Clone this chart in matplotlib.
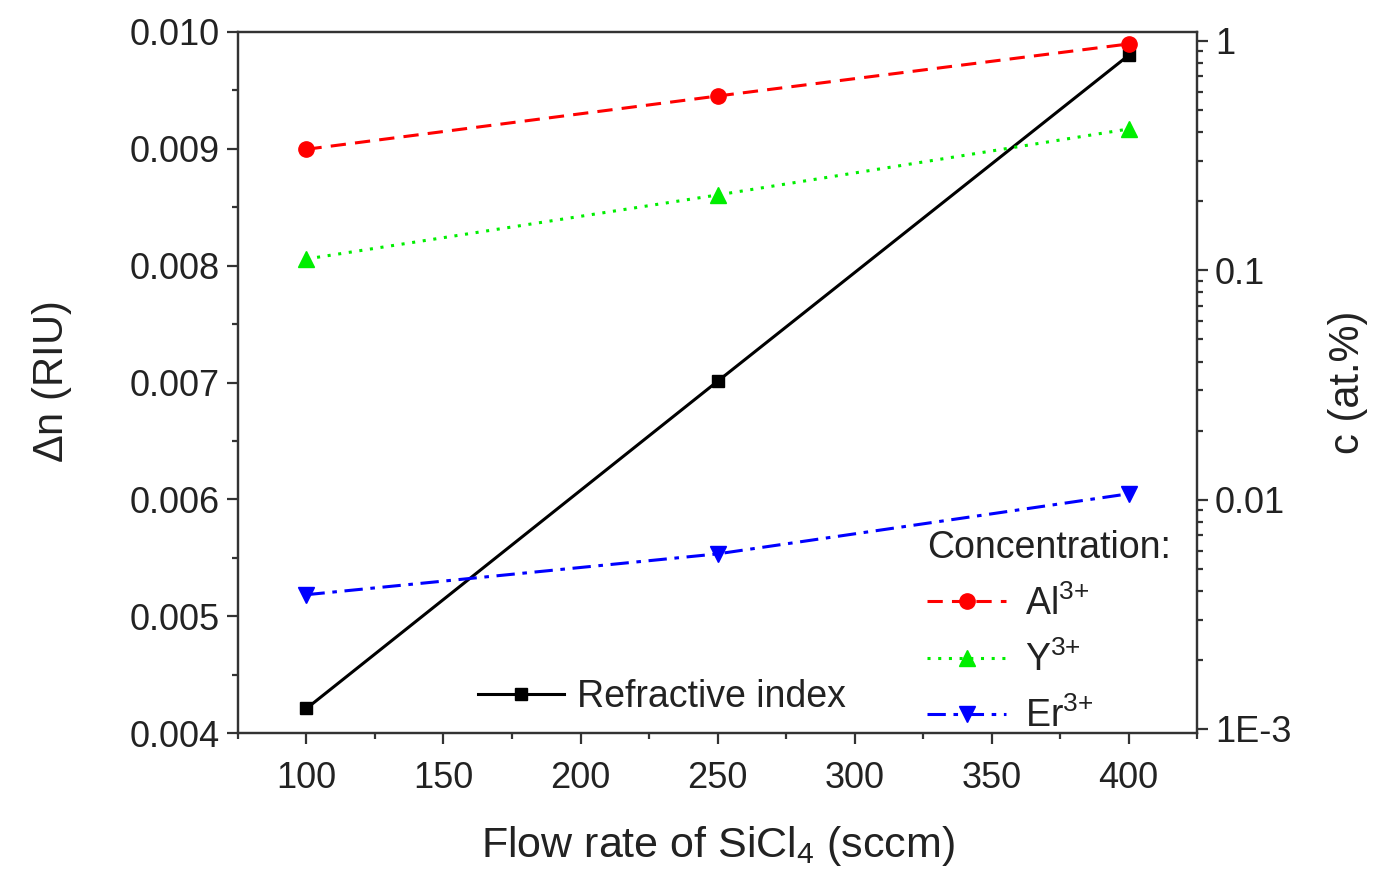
import matplotlib
matplotlib.use('Agg')
import matplotlib.pyplot as plt
from matplotlib.ticker import MultipleLocator, FixedLocator, FixedFormatter, LogLocator, NullFormatter

plt.rcParams['font.family'] = ['Liberation Sans', 'DejaVu Sans']
plt.rcParams['mathtext.fontset'] = 'custom'
plt.rcParams['mathtext.rm'] = 'Liberation Sans'
plt.rcParams['mathtext.it'] = 'Liberation Sans:italic'
plt.rcParams['mathtext.default'] = 'regular'

# data
flow = [100, 250, 400]
delta_n = [0.00421, 0.00701, 0.0098]
conc_al = [0.337, 0.575, 0.97]
conc_y = [0.112, 0.213, 0.413]
conc_er = [0.00385, 0.0058, 0.0106]

right_ticks = [1e-3, 1e-2, 1e-1, 1]
right_labels = ['1E-3', '0.01', '0.1', '1']

fig = plt.figure(figsize=(13.78, 8.76), dpi=100)
ax = fig.add_axes([0.1727, 0.1632, 0.696, 0.8003])
ax2 = ax.twinx()

ln_n, = ax.plot(flow, delta_n, color='black', lw=2.2, marker='s', ms=9,
                label='Refractive index')
ln_al, = ax2.plot(flow, conc_al, color='#ff0000', lw=2.2, ls=(0, (5, 3)),
                  marker='o', ms=11, label=r'Al$^{3{+}}$')
ln_y, = ax2.plot(flow, conc_y, color='#00ee00', lw=2.2, ls=(0, (1, 2.5)),
                 marker='^', ms=11, label=r'Y$^{3{+}}$')
ln_er, = ax2.plot(flow, conc_er, color='#0000ff', lw=2.2, ls=(0, (6, 2.5, 1.5, 2.5)),
                  marker='v', ms=11, label=r'Er$^{3{+}}$')

ax.set_xlim(75, 425)
ax.set_ylim(0.004, 0.010)
ax2.set_yscale('log')
ax2.set_ylim(0.00096, 1.094)

ax.xaxis.set_major_locator(MultipleLocator(50))
ax.xaxis.set_minor_locator(MultipleLocator(25))
ax.yaxis.set_major_locator(MultipleLocator(0.001))
ax.yaxis.set_minor_locator(MultipleLocator(0.0005))
ax.yaxis.set_major_formatter(plt.FuncFormatter(lambda v, p: f'{v:.3f}'))

ax2.yaxis.set_major_locator(FixedLocator(right_ticks))
ax2.yaxis.set_major_formatter(FixedFormatter(right_labels))
ax2.yaxis.set_minor_locator(LogLocator(base=10, subs=range(2, 10)))
ax2.yaxis.set_minor_formatter(NullFormatter())

for a in (ax, ax2):
    for s in a.spines.values():
        s.set_linewidth(1.6)
        s.set_color('#333333')
    a.tick_params(which='major', direction='out', length=8, width=1.6,
                  labelsize=26, colors='#333333', labelcolor='#222222')
    a.tick_params(which='minor', direction='out', length=4.5, width=1.6,
                  colors='#333333')
ax.tick_params(axis='x', which='major', pad=12)
ax.tick_params(axis='y', which='major', pad=5)
ax2.tick_params(axis='y', which='major', pad=5)

ax.set_xlabel(r'Flow rate of SiCl$_4$ (sccm)', fontsize=31, color='#222222', labelpad=20)
ax.set_ylabel(r'$\Delta$n (RIU)', fontsize=30, color='#222222', labelpad=40)
ax2.set_ylabel('c (at.%)', fontsize=30, color='#222222', labelpad=26)

leg1 = ax.legend(handles=[ln_n], loc='center', bbox_to_anchor=(0.442, 0.051),
                 frameon=False, fontsize=27, handlelength=2.3, handletextpad=0.35,
                 numpoints=1)
leg2 = ax2.legend(handles=[ln_al, ln_y, ln_er], loc='center',
                  bbox_to_anchor=(0.846, 0.143), frameon=False, fontsize=27,
                  title='Concentration:', title_fontsize=27, alignment='left',
                  handlelength=2.1, handletextpad=0.5, labelspacing=0.5,
                  numpoints=1)
for t in leg1.get_texts() + leg2.get_texts() + [leg2.get_title()]:
    t.set_color('#222222')

plt.savefig('out.png', dpi=100)
